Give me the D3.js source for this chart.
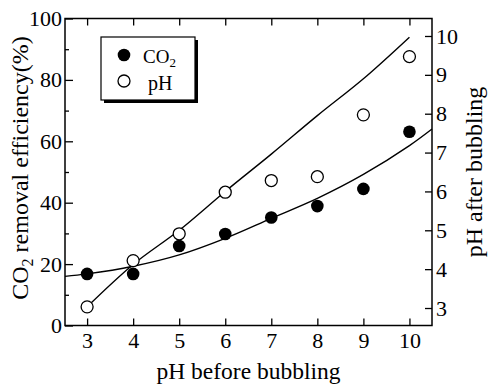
<!DOCTYPE html>
<html>
<head>
<meta charset="utf-8">
<script src="https://cdn.jsdelivr.net/npm/d3@7"></script>
<style>
  body { margin: 0; background: #fff; }
</style>
</head>
<body>
<div id="chart"></div>
<script>
// measured points
var phBefore = [3, 4, 5, 6, 7, 8, 9, 10];
var co2Removal = [16.8, 16.8, 25.9, 29.8, 35.2, 38.9, 44.5, 63.1];
var phAfter = [3.03, 4.22, 4.91, 5.98, 6.28, 6.38, 7.97, 9.47];

// fitted curves
var co2FitX = [2.52, 3, 4, 5, 6, 7, 8, 9, 10, 10.49];
var co2FitY = [16.0, 16.8, 19.3, 23.0, 28.4, 34.9, 41.4, 49.2, 58.6, 64.0];
var phFitX = [3, 4, 5, 6, 7, 8, 9, 10];
var phFitY = [3.03, 4.12, 5.0, 6.0, 6.96, 7.95, 8.9, 9.97];

// tick values
var xTicks = [3, 4, 5, 6, 7, 8, 9, 10];
var leftTicks = [0, 20, 40, 60, 80, 100];
var leftMinor = [10, 30, 50, 70, 90];
var rightTicks = [3, 4, 5, 6, 7, 8, 9, 10];

(function() {
  'use strict';

  var width = 493, height = 384;
  var pLeft = 65, pRight = 432, pTop = 18.5, pBottom = 325.5;
  var serif = 'Liberation Serif';

  var svg = d3.select('#chart').append('svg')
    .attr('width', width)
    .attr('height', height)
    .attr('font-family', serif);

  var x = d3.scaleLinear().domain([2.52, 10.49]).range([pLeft, pRight]);
  var yL = d3.scaleLinear().domain([0, 100]).range([pBottom, pTop]);
  var yR = d3.scaleLinear().domain([2.55, 10.45]).range([pBottom, pTop]);

  // frame
  svg.append('rect')
    .attr('x', pLeft).attr('y', pTop)
    .attr('width', pRight - pLeft).attr('height', pBottom - pTop)
    .attr('fill', 'none').attr('stroke', '#000').attr('stroke-width', 1.5);

  function styleAxis(g) {
    g.attr('font-family', serif).attr('font-size', 22);
    g.select('.domain').remove();
    g.selectAll('line').attr('stroke', '#000').attr('stroke-width', 1.3);
    g.selectAll('text').attr('fill', '#000');
  }

  // bottom axis
  svg.append('g')
    .attr('transform', 'translate(0,' + pBottom + ')')
    .call(d3.axisBottom(x).tickValues(xTicks).tickSize(-7).tickPadding(7).tickFormat(d3.format('d')))
    .call(styleAxis);

  // top axis, ticks only
  svg.append('g')
    .attr('transform', 'translate(0,' + pTop + ')')
    .call(d3.axisTop(x).tickValues(xTicks).tickSize(-7).tickFormat(''))
    .call(styleAxis);

  // left axis
  svg.append('g')
    .attr('transform', 'translate(' + pLeft + ',0)')
    .call(d3.axisLeft(yL).tickValues(leftTicks).tickSize(-8).tickPadding(3).tickFormat(d3.format('d')))
    .call(styleAxis);

  svg.append('g')
    .attr('transform', 'translate(' + pLeft + ',0)')
    .call(d3.axisLeft(yL).tickValues(leftMinor).tickSize(-4).tickFormat(''))
    .call(styleAxis);

  // right axis
  svg.append('g')
    .attr('transform', 'translate(' + pRight + ',0)')
    .call(d3.axisRight(yR).tickValues(rightTicks).tickSize(-7).tickPadding(4).tickFormat(d3.format('d')))
    .call(styleAxis);

  // axis titles
  svg.append('text')
    .attr('x', (pLeft + pRight) / 2)
    .attr('y', 379)
    .attr('text-anchor', 'middle')
    .attr('font-size', 23.5)
    .text('pH before bubbling');

  var yTitle = svg.append('text')
    .attr('transform', 'translate(28,168) rotate(-90)')
    .attr('text-anchor', 'middle')
    .attr('font-size', 24);
  yTitle.append('tspan').text('CO');
  yTitle.append('tspan').attr('dy', 5).attr('font-size', 16).text('2');
  yTitle.append('tspan').attr('dy', -5).text(' removal efficiency(%)');

  svg.append('text')
    .attr('transform', 'translate(482,172) rotate(-90)')
    .attr('text-anchor', 'middle')
    .attr('font-size', 24)
    .text('pH after bubbling');

  // fitted lines
  var co2Line = d3.line()
    .x(function(d) { return x(d[0]); })
    .y(function(d) { return yL(d[1]); })
    .curve(d3.curveCatmullRom);

  var phLine = d3.line()
    .x(function(d) { return x(d[0]); })
    .y(function(d) { return yR(d[1]); })
    .curve(d3.curveCatmullRom);

  svg.append('path')
    .datum(d3.zip(co2FitX, co2FitY))
    .attr('d', co2Line)
    .attr('fill', 'none').attr('stroke', '#000').attr('stroke-width', 1.4);

  svg.append('path')
    .datum(d3.zip(phFitX, phFitY))
    .attr('d', phLine)
    .attr('fill', 'none').attr('stroke', '#000').attr('stroke-width', 1.4);

  // markers
  svg.selectAll('circle.co2')
    .data(d3.zip(phBefore, co2Removal))
    .enter().append('circle')
    .attr('class', 'co2')
    .attr('cx', function(d) { return x(d[0]); })
    .attr('cy', function(d) { return yL(d[1]); })
    .attr('r', 6.3)
    .attr('fill', '#000');

  svg.selectAll('circle.ph')
    .data(d3.zip(phBefore, phAfter))
    .enter().append('circle')
    .attr('class', 'ph')
    .attr('cx', function(d) { return x(d[0]); })
    .attr('cy', function(d) { return yR(d[1]); })
    .attr('r', 6)
    .attr('fill', '#fff')
    .attr('stroke', '#000').attr('stroke-width', 1.3);

  // legend with drop shadow
  var lg = svg.append('g');
  lg.append('rect')
    .attr('x', 104).attr('y', 40).attr('width', 94).attr('height', 63)
    .attr('fill', '#000');
  lg.append('rect')
    .attr('x', 101).attr('y', 37).attr('width', 94).attr('height', 63)
    .attr('fill', '#fff').attr('stroke', '#000').attr('stroke-width', 1.2);

  lg.append('circle').attr('cx', 124).attr('cy', 55).attr('r', 6.3).attr('fill', '#000');
  lg.append('circle').attr('cx', 124).attr('cy', 81).attr('r', 6)
    .attr('fill', '#fff').attr('stroke', '#000').attr('stroke-width', 1.3);

  var co2Label = lg.append('text').attr('x', 143).attr('y', 63).attr('font-size', 19);
  co2Label.append('tspan').text('CO');
  co2Label.append('tspan').attr('dy', 4).attr('font-size', 13).text('2');

  lg.append('text').attr('x', 148).attr('y', 90).attr('font-size', 20).text('pH');
})();
</script>
</body>
</html>
